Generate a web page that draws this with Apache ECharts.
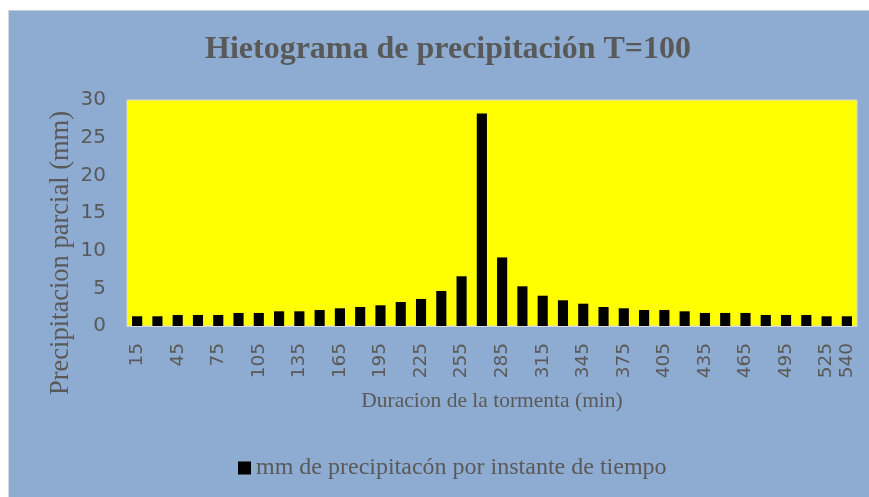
<!DOCTYPE html>
<html>
<head>
<meta charset="utf-8">
<title>Hietograma</title>
<script src="https://cdn.jsdelivr.net/npm/echarts@6/dist/echarts.min.js"></script>
<style>
  html, body { margin: 0; padding: 0; background: #fff; }
  #hietograma { width: 869px; height: 497px; }
</style>
</head>
<body>
<div id="hietograma"></div>
<script>
  // duracion de la tormenta (min)
  var minutos = ['15', '30', '45', '60', '75', '90', '105', '120', '135', '150', '165', '180',
    '195', '210', '225', '240', '255', '270', '285', '300', '315', '330', '345', '360',
    '375', '390', '405', '420', '435', '450', '465', '480', '495', '510', '525', '540'];

  // mm de precipitacion por instante de tiempo
  var precipitacion = [1.29, 1.29, 1.46, 1.46, 1.46, 1.73, 1.73, 1.95, 1.95, 2.12, 2.35, 2.52,
    2.75, 3.19, 3.59, 4.65, 6.6, 28.2, 9.1, 5.27, 4.02, 3.41, 2.96, 2.52,
    2.35, 2.12, 2.12, 1.95, 1.73, 1.73, 1.73, 1.46, 1.46, 1.46, 1.29, 1.29];

  var ticksY = [0, 5, 10, 15, 20, 25, 30];

  var gris = '#595959';
  var azul = '#8eacd1';

  var myChart = echarts.init(document.getElementById('hietograma'));
  var options = {
    backgroundColor: azul,
    animation: false,
    title: {
      text: 'Hietograma de precipitación T=100',
      left: 200,
      top: 29,
      textStyle: {
        fontFamily: 'Liberation Serif',
        fontWeight: 'bold',
        fontSize: 32,
        color: gris
      }
    },
    legend: {
      left: 233,
      top: 451,
      icon: 'rect',
      itemWidth: 13,
      itemHeight: 13,
      textStyle: {
        fontFamily: 'Liberation Serif',
        fontSize: 24,
        color: gris
      },
      data: ['mm de precipitacón por instante de tiempo']
    },
    grid: {
      left: 127,
      right: 12,
      top: 100,
      bottom: 171,
      show: true,
      backgroundColor: '#ffff00',
      borderColor: '#d9d9d9',
      borderWidth: 1
    },
    xAxis: {
      type: 'category',
      data: minutos,
      name: 'Duracion de la tormenta (min)',
      nameLocation: 'middle',
      nameGap: 64,
      nameTextStyle: {
        fontFamily: 'Liberation Serif',
        fontSize: 21.5,
        color: gris
      },
      axisLine: { lineStyle: { color: '#d9d9d9' } },
      axisTick: { show: false },
      axisLabel: {
        rotate: 90,
        margin: 17,
        interval: function (i) { return i % 2 === 0 || i === minutos.length - 1; },
        fontFamily: 'DejaVu Sans',
        fontSize: 18.5,
        color: gris
      }
    },
    yAxis: {
      type: 'value',
      min: ticksY[0],
      max: ticksY[ticksY.length - 1],
      interval: 5,
      splitLine: { show: false },
      axisLine: { show: false },
      axisTick: { show: false },
      axisLabel: {
        margin: 21,
        fontFamily: 'DejaVu Sans',
        fontSize: 20,
        color: gris
      }
    },
    graphic: [
      { type: 'rect', shape: { x: 0, y: 0, width: 869, height: 10 }, style: { fill: '#ffffff' }, silent: true },
      { type: 'rect', shape: { x: 0, y: 0, width: 8, height: 497 }, style: { fill: '#ffffff' }, silent: true },
      { type: 'line', shape: { x1: 8, y1: 10.5, x2: 869, y2: 10.5 }, style: { stroke: '#c8ccd2', lineWidth: 1 }, silent: true },
      { type: 'line', shape: { x1: 8.5, y1: 10, x2: 8.5, y2: 497 }, style: { stroke: '#d6d8dc', lineWidth: 1 }, silent: true },
      {
        type: 'text',
        x: 61,
        y: 253,
        rotation: Math.PI / 2,
        silent: true,
        style: {
          text: 'Precipitacion parcial (mm)',
          fontFamily: 'Liberation Serif',
          fontSize: 26.5,
          fill: gris,
          align: 'center',
          verticalAlign: 'middle'
        }
      }
    ],
    series: [{
      name: 'mm de precipitacón por instante de tiempo',
      type: 'bar',
      barWidth: '50%',
      itemStyle: { color: '#000000' },
      data: precipitacion
    }]
  };
  myChart.setOption(options);
</script>
</body>
</html>
